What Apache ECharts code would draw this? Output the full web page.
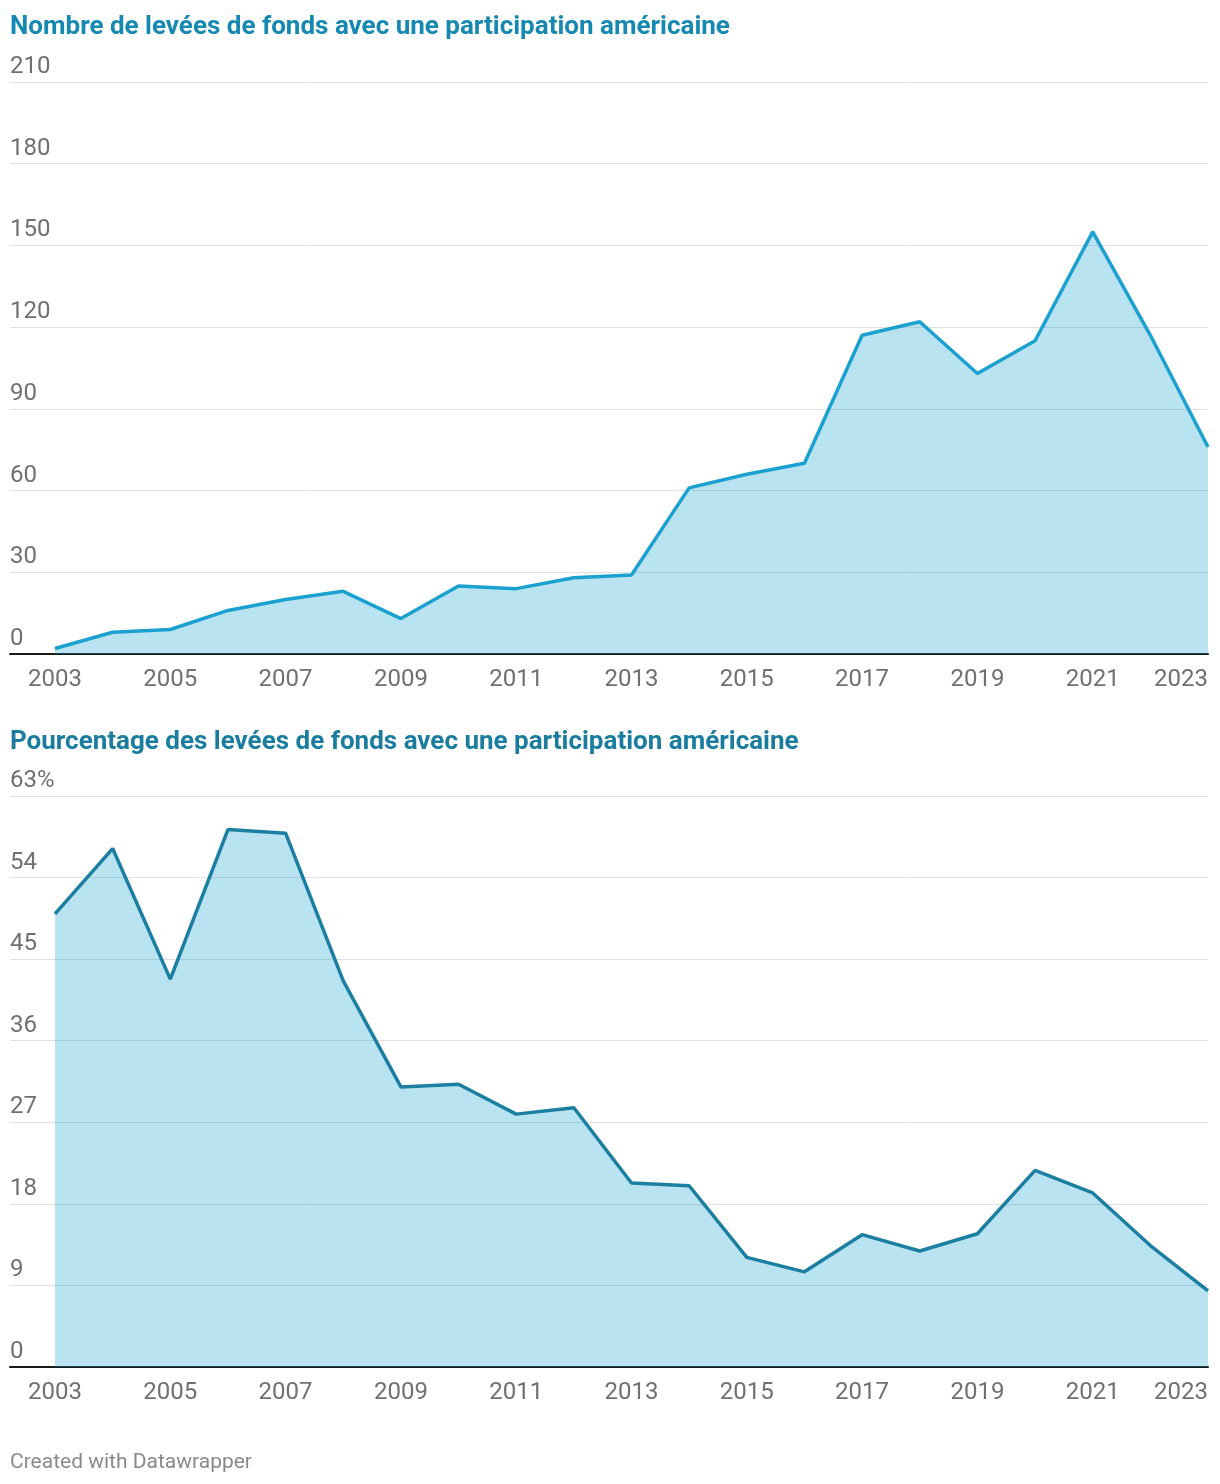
<!DOCTYPE html>
<html><head><meta charset="utf-8">
<script src="https://cdn.jsdelivr.net/npm/echarts@6/dist/echarts.min.js"></script>
<style>html,body{margin:0;padding:0;background:#fff}#c{width:1220px;height:1484px}</style>
</head><body><div id="c"></div>
<script>
const years = [2003,2004,2005,2006,2007,2008,2009,2010,2011,2012,2013,2014,2015,2016,2017,2018,2019,2020,2021,2022,2023];
const countValues = [2,8,9,16,20,23,13,25,24,28,29,61,66,70,117,122,103,115,155,117,76];
const pctValues = [50.0,57.2,42.8,59.3,58.9,42.6,30.9,31.2,27.9,28.6,20.3,20.0,12.1,10.5,14.6,12.8,14.7,21.7,19.2,13.4,8.4];
const xTickLabels = [2003,2005,2007,2009,2011,2013,2015,2017,2019,2021,2023];
const title1 = 'Nombre de levées de fonds avec une participation américaine';
const title2 = 'Pourcentage des levées de fonds avec une participation américaine';
const footer = 'Created with Datawrapper';

const FONT = 'Roboto';
const grids = [
  {left: 10, right: 12, top: 82, height: 572},
  {left: 10, right: 12, top: 796, height: 571}
];
const xMin = 2003 - 45/57.65;
function xAxis(i){
  return {
    type: 'value', gridIndex: i, min: xMin, max: 2023,
    axisLine: {show: true, lineStyle: {color: '#1a1a1a', width: 2}},
    axisTick: {show: false},
    splitLine: {show: false},
    axisLabel: {
      customValues: xTickLabels, color: '#707070', fontFamily: FONT, fontSize: 24,
      margin: 14, alignMaxLabel: 'right', showMinLabel: true, showMaxLabel: true,
      formatter: v => String(v)
    }
  };
}
function yAxis(i, max, interval, fmt){
  return {
    type: 'value', gridIndex: i, min: 0, max: max, interval: interval,
    axisLine: {show: false}, axisTick: {show: false},
    splitLine: {show: true, lineStyle: {color: '#e0e0e0', width: 1}},
    axisLabel: {
      inside: true, margin: 0, align: 'left', verticalAlign: 'bottom',
      padding: [0,0,3,0], color: '#707070', fontFamily: FONT, fontSize: 24,
      formatter: fmt
    }
  };
}
const chart = echarts.init(document.getElementById('c'), null, {renderer: 'canvas'});
chart.setOption({
  animation: false,
  backgroundColor: '#fff',
  title: [
    {text: title1, left: 10, top: 14, padding: 0, textStyle: {color: '#1689b3', fontFamily: FONT, fontWeight: 'bold', fontSize: 26}},
    {text: title2, left: 10, top: 729, padding: 0, textStyle: {color: '#1a7d9f', fontFamily: FONT, fontWeight: 'bold', fontSize: 26}},
    {text: footer, left: 10, top: 1452, padding: 0, textStyle: {color: '#8a8a8a', fontFamily: FONT, fontWeight: 'normal', fontSize: 21}}
  ],
  grid: grids,
  xAxis: [xAxis(0), xAxis(1)],
  yAxis: [
    yAxis(0, 210, 30, v => String(v)),
    yAxis(1, 63, 9, v => v === 63 ? '63%' : String(v))
  ],
  series: [
    {
      type: 'line', xAxisIndex: 0, yAxisIndex: 0, symbol: 'none',
      data: years.map((y, k) => [y, countValues[k]]),
      lineStyle: {color: '#1ba1cf', width: 3.5},
      areaStyle: {color: '#1ba1cf', opacity: 0.3, origin: 'start'},
      z: 2
    },
    {
      type: 'line', xAxisIndex: 1, yAxisIndex: 1, symbol: 'none',
      data: years.map((y, k) => [y, pctValues[k]]),
      lineStyle: {color: '#1b7fa1', width: 3.5},
      areaStyle: {color: '#1ba1cf', opacity: 0.3, origin: 'start'},
      z: 2
    }
  ]
});
</script></body></html>
